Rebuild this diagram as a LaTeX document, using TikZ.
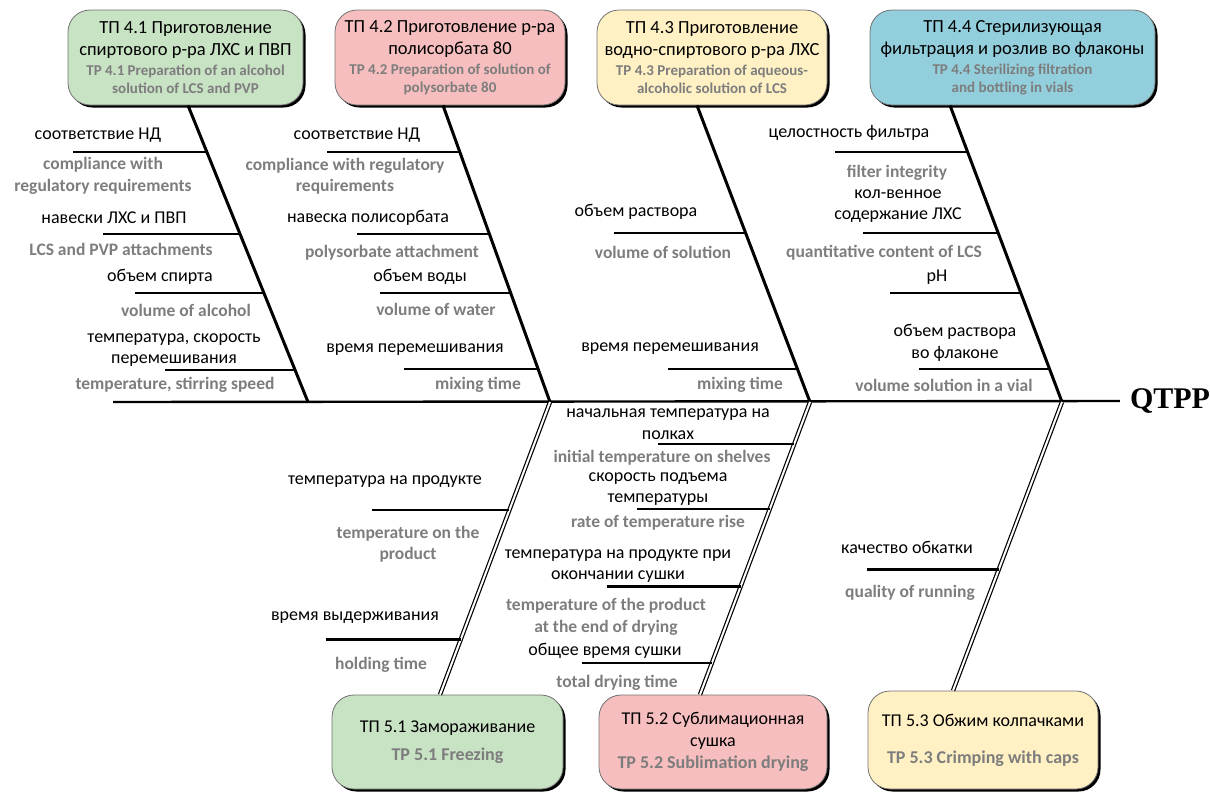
\documentclass[tikz,border=0pt]{standalone}
\usepackage{fontspec}
\setmainfont{Carlito}
\newfontfamily\qtppfont{Liberation Serif}
\usetikzlibrary{calc,shadows}
\definecolor{engl}{RGB}{125,125,125}
\definecolor{tpgreen}{RGB}{200,226,196}
\definecolor{tppink}{RGB}{246,190,190}
\definecolor{tpyellow}{RGB}{255,241,196}
\definecolor{tpcyan}{RGB}{146,206,220}
\newcommand{\tpen}{\fontsize{15}{19}\selectfont\bfseries\color{engl}}
\newcommand{\tpenb}{\fontsize{18}{22}\selectfont\bfseries\color{engl}}
\begin{document}
\begin{tikzpicture}[
        x=1pt, y=-1pt,
        tp/.style={draw=black!55, line width=0.8pt, rounded corners=22pt, align=center, inner sep=0pt,
            font=\fontsize{18.5}{22}\selectfont,
            drop shadow={shadow xshift=2.5pt, shadow yshift=-2.5pt, opacity=1, fill=black}},
        ru/.style={align=center, inner sep=0pt, font=\fontsize{18}{21.5}\selectfont},
        en/.style={align=center, inner sep=0pt, text=engl, font=\fontsize{17.5}{21.5}\selectfont\bfseries},
        bone/.style={line width=3pt},
        rib/.style={line width=2.4pt},
        dbone/.style={double, line width=1.2pt, double distance=2pt},
        spine/.style={line width=2.4pt},
    ]
    \useasboundingbox (0,0) rectangle (1210,793);

    \node[tp, fill=tpgreen, minimum width=235pt, minimum height=95pt](tp41) at (185.5,57.5)
        {ТП 4.1 Приготовление\\спиртового р-ра ЛХС и ПВП\\[-2pt]\tpen TP 4.1 Preparation of an alcohol\\[-4pt]\tpen solution of LCS and PVP};
    \node[tp, fill=tppink, minimum width=230pt, minimum height=95pt](tp42) at (450,57.5)
        {ТП 4.2 Приготовление р-ра\\полисорбата 80\\[-2pt]\tpen TP 4.2 Preparation of solution of\\[-4pt]\tpen polysorbate 80};
    \node[tp, fill=tpyellow, minimum width=230pt, minimum height=95pt](tp43) at (712,57.5)
        {ТП 4.3 Приготовление\\водно-спиртового р-ра ЛХС\\[-2pt]\tpen TP 4.3 Preparation of aqueous-\\[-4pt]\tpen alcoholic solution of LCS};
    \node[tp, fill=tpcyan, minimum width=285pt, minimum height=95pt](tp44) at (1012.5,57.5)
        {ТП 4.4 Стерилизующая\\фильтрация и розлив во флаконы\\[-2pt]\tpen TP 4.4 Sterilizing filtration\\[-4pt]\tpen and bottling in vials};

    \node[tp, fill=tpgreen, minimum width=231pt, minimum height=94pt, font=\fontsize{18}{22}\selectfont](tp51) at (447.5,742)
        {ТП 5.1 Замораживание\\[6pt]\tpenb TP 5.1 Freezing};
    \node[tp, fill=tppink, minimum width=228pt, minimum height=94pt, font=\fontsize{18}{22}\selectfont](tp52) at (713,742)
        {ТП 5.2 Сублимационная\\сушка\\\tpenb TP 5.2 Sublimation drying};
    \node[tp, fill=tpyellow, minimum width=230pt, minimum height=98pt, font=\fontsize{18}{22}\selectfont](tp53) at (983,740)
        {ТП 5.3 Обжим колпачками\\[15pt]\tpenb TP 5.3 Crimping with caps};

    \node[inner sep=0pt, font=\qtppfont\fontsize{30}{30}\selectfont\bfseries](qtpp) at (1170,401){QTPP};

    \coordinate (tail) at (113,402);
    \coordinate (s1) at (308,402);
    \coordinate (s2) at (550,402);
    \coordinate (s3) at (810,402);
    \coordinate (s4) at (1062,402);
    \coordinate (t1) at ($(tp41.south)+(2.5,0)$);
    \coordinate (t2) at ($(tp42.south)+(-7,0)$);
    \coordinate (t3) at ($(tp43.south)+(-15,0)$);
    \coordinate (t4) at ($(tp44.south)+(-62.5,0)$);
    \coordinate (b5) at ($(tp51.north)+(-7.5,0)$);
    \coordinate (b6) at ($(tp52.north)+(-13,0)$);
    \coordinate (b7) at ($(tp53.north)+(-30,0)$);

    \draw[spine] (tail) -- ([xshift=-10pt]qtpp.west);
    \draw[bone] (t1) -- (s1);
    \draw[bone] (t2) -- (s2);
    \draw[bone] (t3) -- (s3);
    \draw[bone] (t4) -- (s4);
    \draw[dbone] (s2) -- (b5);
    \draw[dbone] (s3) -- (b6);
    \draw[dbone] (s4) -- (b7);

    \coordinate (k1a) at ($(t1)!0.158!(s1)$); \coordinate (f1a) at (73,0);
    \coordinate (k1b) at ($(t1)!0.434!(s1)$); \coordinate (f1b) at (103,0);
    \coordinate (k1c) at ($(t1)!0.633!(s1)$); \coordinate (f1c) at (135,0);
    \coordinate (k1d) at ($(t1)!0.892!(s1)$); \coordinate (f1d) at (165,0);
    \coordinate (k2a) at ($(t2)!0.158!(s2)$); \coordinate (f2a) at (327,0);
    \coordinate (k2b) at ($(t2)!0.434!(s2)$); \coordinate (f2b) at (357,0);
    \coordinate (k2c) at ($(t2)!0.633!(s2)$); \coordinate (f2c) at (380,0);
    \coordinate (k2d) at ($(t2)!0.889!(s2)$); \coordinate (f2d) at (404,0);
    \coordinate (k3a) at ($(t3)!0.431!(s3)$); \coordinate (f3a) at (614,0);
    \coordinate (k3b) at ($(t3)!0.889!(s3)$); \coordinate (f3b) at (668,0);
    \coordinate (k4a) at ($(t4)!0.158!(s4)$); \coordinate (f4a) at (835,0);
    \coordinate (k4b) at ($(t4)!0.431!(s4)$); \coordinate (f4b) at (863,0);
    \coordinate (k4c) at ($(t4)!0.633!(s4)$); \coordinate (f4c) at (890,0);
    \coordinate (k4d) at ($(t4)!0.889!(s4)$); \coordinate (f4d) at (919,0);
    \coordinate (k5a) at ($(s2)!0.369!(b5)$); \coordinate (f5a) at (372,0);
    \coordinate (k5b) at ($(s2)!0.812!(b5)$); \coordinate (f5b) at (326,0);
    \coordinate (k6a) at ($(s3)!0.143!(b6)$); \coordinate (f6a) at (658,0);
    \coordinate (k6b) at ($(s3)!0.365!(b6)$); \coordinate (f6b) at (637,0);
    \coordinate (k6c) at ($(s3)!0.631!(b6)$); \coordinate (f6c) at (607,0);
    \coordinate (k6d) at ($(s3)!0.891!(b6)$); \coordinate (f6d) at (582,0);
    \coordinate (k7a) at ($(s4)!0.581!(b7)$); \coordinate (f7a) at (867,0);

    \foreach \r in {1a,1b,1c,1d,2a,2b,2c,2d,3a,3b,4a,4b,4c,4d,5a,5b,6a,6b,6c,6d,7a}
        \draw[rib] (k\r) -- (k\r -| f\r);

    \node[ru](r1a) at (98,135){соответствие НД};
    \node[en](e1a) at (103,176){compliance with\\regulatory requirements};
    \node[ru](r1b) at (114,218){навески ЛХС и ПВП};
    \node[en](e1b) at (121,249){LCS and PVP attachments};
    \node[ru](r1c) at (160,277){объем спирта};
    \node[en](e1c) at (186,310){volume of alcohol};
    \node[ru](r1d) at (174,350){температура, скорость\\перемешивания};
    \node[en](e1d) at (175,385){temperature, stirring speed};

    \node[ru](r2a) at (357,135){соответствие НД};
    \node[en](e2a) at (345,176){compliance with regulatory\\requirements};
    \node[ru](r2b) at (368,218){навеска полисорбата};
    \node[en](e2b) at (392,253){polysorbate attachment};
    \node[ru](r2c) at (420,277){объем воды};
    \node[en](e2c) at (436,309){volume of water};
    \node[ru](r2d) at (415,350){время перемешивания};
    \node[en](e2d) at (478,385){mixing time};

    \node[ru](r3a) at (636,212){объем раствора};
    \node[en](e3a) at (663,252){volume of solution};
    \node[ru](r3b) at (670,349){время перемешивания};
    \node[en](e3b) at (740,385){mixing time};

    \node[ru](r4a) at (849,133){целостность фильтра};
    \node[en](e4a) at (897,173){filter integrity};
    \node[ru](r4b) at (898,206){кол-венное\\содержание ЛХС};
    \node[en](e4b) at (884,253){quantitative content of LCS};
    \node[ru](r4c) at (937,277){pH};
    \node[ru](r4d) at (955,343){объем раствора\\во флаконе};
    \node[en](e4d) at (944,385){volume solution in a vial};

    \node[ru](r5a) at (385,482){температура на продукте};
    \node[en](e5a) at (408,544){temperature on the\\product};
    \node[ru](r5b) at (355,618){время выдерживания};
    \node[en](e5b) at (381,665){holding time};

    \node[ru](r6a) at (668,424){начальная температура на\\полках};
    \node[en](e6a) at (662,458){initial temperature on shelves};
    \node[ru](r6b) at (658,489){скорость подъема\\температуры};
    \node[en](e6b) at (658,523){rate of temperature rise};
    \node[ru](r6c) at (618,566){температура на продукте при\\окончании сушки};
    \node[en](e6c) at (606,617){temperature of the product\\at the end of drying};
    \node[ru](r6d) at (605,651){общее время сушки};
    \node[en](e6d) at (617,683){total drying time};

    \node[ru](r7a) at (907,547){качество обкатки};
    \node[en](e7a) at (910,593){quality of running};

\end{tikzpicture}
\end{document}
